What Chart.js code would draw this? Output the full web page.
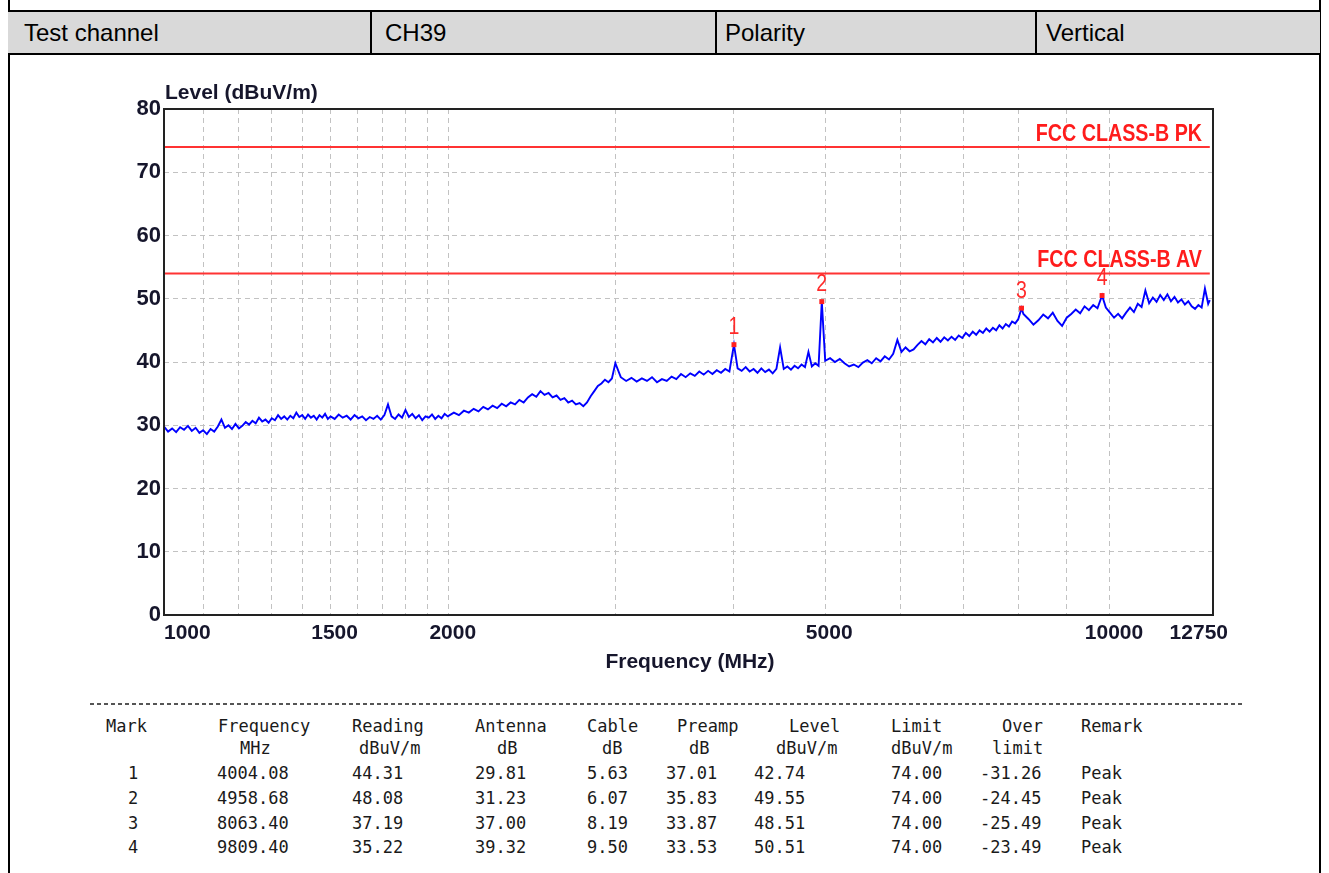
<!DOCTYPE html>
<html>
<head>
<meta charset="utf-8">
<script src="https://cdn.jsdelivr.net/npm/chart.js@4.4.1/dist/chart.umd.min.js"></script>
<style>
  html, body { margin: 0; padding: 0; background: #fff; }
  body { width: 1329px; height: 873px; position: relative; overflow: hidden; font-family: "Liberation Sans", Arial, sans-serif; }
  .vline { position: absolute; top: 0; width: 2px; height: 873px; background: #000; }
  #hdr { position: absolute; left: 8px; top: 10px; width: 1312px; height: 41px; background: #d9d9d9; border-top: 2px solid #000; border-bottom: 2px solid #000; }
  .hcell { position: absolute; top: 0; height: 41px; line-height: 41px; font-size: 24px; color: #000; }
  .hdiv { position: absolute; top: 0; width: 2px; height: 41px; background: #000; }
  #chartBox { position: absolute; left: 0; top: 60px; width: 1329px; height: 640px; }
  #sep { position: absolute; left: 90px; top: 703px; width: 1154px; height: 1.5px;
         background: repeating-linear-gradient(to right, #555 0 4px, transparent 4px 7px); }
  .tc { position: absolute; font-family: "DejaVu Sans Mono", "Liberation Mono", monospace; font-size: 17px; color: #1a1a1a; white-space: pre; line-height: 20px; }
</style>
</head>
<body>
<div class="vline" style="left:8px"></div>
<div class="vline" style="left:1319px"></div>
<div id="hdr"></div>
<div id="chartBox"><canvas id="c" width="1329" height="640"></canvas></div>
<div id="sep"></div>
<div id="tbl"></div>
<script>
// ---------- header ----------
const headerCells = ["Test channel", "CH39", "Polarity", "Vertical"];

// ---------- spectrum data ----------
const freqMHz = [
  1000,1010,1020,1030,1040,1050,1060,1070,1080,1090,
  1100,1110,1120,1130,1140,1150,1160,1170,1180,1190,
  1200,1210,1220,1230,1240,1250,1260,1270,1280,1290,
  1300,1310,1320,1330,1340,1350,1360,1370,1380,1390,
  1400,1410,1420,1430,1440,1450,1460,1470,1480,1490,
  1500,
  1515,1530,1545,1560,1575,1590,1605,1620,1635,1650,
  1665,1680,1695,1710,1725,1740,1755,1770,1785,1800,
  1815,1830,1845,1860,1875,1890,1905,1920,1935,1950,
  1965,1980,1995,
  2025,2050,2075,2100,2125,2150,2175,2200,2225,2250,
  2275,2300,2325,2350,2375,2400,2425,2450,2475,2500,
  2525,2550,2575,2600,2625,2650,2675,2700,2725,2750,
  2775,2800,2825,2850,2875,2900,2925,2950,2975,3000,
  3040,3080,3120,3160,3200,3240,3280,3320,3360,3400,
  3440,3480,3520,3560,3600,3640,3680,3720,3760,3800,
  3840,3880,3920,3960,4004.08,4040,4080,4120,4160,4200,
  4240,4280,4320,4360,4400,4440,4480,4520,4560,4600,
  4640,4680,4720,4760,4800,4840,4880,4920,4958.68,5000,
  5060,5120,5180,5240,5300,5360,5420,5480,5540,5600,
  5660,5720,5780,5840,5900,5960,6020,6080,6140,6200,
  6260,6320,6380,6440,6500,6560,6620,6680,6740,6800,
  6860,6920,6980,7040,7100,7160,7220,7280,7340,7400,
  7460,7520,7580,7640,7700,7760,7820,7880,7940,8000,
  8063.40,8100,8200,8300,8400,8500,8600,8700,8800,8900,
  9000,9100,9200,9300,9400,9500,9600,9700,9809.40,9900,
  10000,10100,10200,10300,10400,10500,10600,10700,10800,10900,
  11000,11100,11200,11300,11400,11500,11600,11700,11800,11900,
  12000,12100,12200,12300,12400,12500,12600,12700,12750
];
const levelDbuV = [
  29.8,29.0,29.5,28.9,29.7,29.3,29.9,29.1,29.6,28.8,
  29.2,28.6,29.4,29.0,29.8,30.9,29.6,30.0,29.4,30.2,
  29.5,29.9,30.5,30.1,30.7,30.3,31.2,30.6,30.9,30.4,
  31.1,30.8,31.6,31.0,31.4,30.9,31.5,31.1,32.0,31.3,
  31.6,31.0,31.7,31.2,31.5,30.9,31.6,31.2,31.8,31.0,
  31.4,
  31.0,31.7,31.2,31.5,30.9,31.6,31.1,31.4,30.8,31.3,
  31.0,31.5,30.9,31.6,33.3,31.4,31.0,31.7,31.2,32.4,
  31.3,31.8,31.1,31.6,30.8,31.4,31.2,31.7,31.0,31.5,
  31.1,31.8,31.4,
  32.0,31.6,32.3,32.0,32.6,32.2,32.9,32.5,33.1,32.7,
  33.4,33.0,33.6,33.3,34.0,33.6,34.4,34.9,34.5,35.4,
  34.8,35.1,34.4,34.7,34.0,34.3,33.6,33.9,33.3,33.5,
  33.0,33.6,34.6,35.4,36.2,36.6,37.2,36.8,37.4,39.8,
  37.6,37.0,37.5,36.9,37.4,37.0,37.6,36.8,37.3,37.0,
  37.7,37.3,38.1,37.6,38.2,37.8,38.5,38.0,38.6,38.1,
  38.7,38.3,38.9,38.5,42.74,39.0,38.6,39.2,38.5,38.9,
  38.3,39.0,38.4,38.8,38.2,38.9,42.3,38.9,39.3,38.8,
  39.4,39.0,39.6,39.2,41.6,39.3,39.8,39.4,49.55,40.2,
  40.6,40.0,40.5,39.8,39.3,39.6,39.2,39.9,40.3,39.8,
  40.6,40.1,40.9,40.4,41.3,43.5,41.6,42.3,41.7,42.0,
  42.7,43.3,42.8,43.6,43.1,43.8,43.2,43.9,43.4,44.0,
  43.5,44.2,43.8,44.6,44.1,44.8,44.3,45.0,44.6,45.3,
  44.8,45.4,45.0,45.8,45.3,46.0,45.6,46.4,46.1,46.8,
  48.51,47.6,46.8,45.9,46.6,47.5,46.9,47.8,46.5,45.7,
  47.0,47.6,48.3,47.7,48.8,48.2,49.0,48.5,50.51,48.6,
  47.8,47.0,47.6,46.9,47.8,48.6,47.9,49.2,48.7,51.3,
  49.3,50.2,49.5,50.6,49.8,50.7,49.6,50.3,49.4,49.9,
  49.1,49.6,48.8,48.4,49.0,48.6,51.6,49.2,49.8
];

// ---------- axes ----------
const xRange = [1000, 12850];
const xGridFreqs = [1100,1200,1300,1400,1500,1600,1700,1800,1900,2000,
                    3000,4000,5000,6000,7000,8000,9000,10000];
const xTickLabels = [1000, 1500, 2000, 5000, 10000, 12750];
const yRange = [0, 80];
const yStep = 10;
const xTitle = "Frequency (MHz)";
const yTitle = "Level (dBuV/m)";

// ---------- limits ----------
const limitNames = ["FCC CLASS-B PK", "FCC CLASS-B AV"];
const limitLevels = [74, 54];
const limitSpan = [1000, 12750];

// ---------- markers / table ----------
const markNo      = [1, 2, 3, 4];
const markFreq    = [4004.08, 4958.68, 8063.40, 9809.40];
const markReading = [44.31, 48.08, 37.19, 35.22];
const markAntenna = [29.81, 31.23, 37.00, 39.32];
const markCable   = [5.63, 6.07, 8.19, 9.50];
const markPreamp  = [37.01, 35.83, 33.87, 33.53];
const markLevel   = [42.74, 49.55, 48.51, 50.51];
const markLimit   = [74.00, 74.00, 74.00, 74.00];
const markOver    = [-31.26, -24.45, -25.49, -23.49];
const markRemark  = ["Peak", "Peak", "Peak", "Peak"];
const tableHead1  = ["Mark", "Frequency", "Reading", "Antenna", "Cable", "Preamp", "Level", "Limit", "Over", "Remark"];
const tableHead2  = ["", "MHz", "dBuV/m", "dB", "dB", "dB", "dBuV/m", "dBuV/m", "limit", ""];

// ---------- build header ----------
(function(){
  const hdr = document.getElementById('hdr');
  const cellLeft = [16, 377, 717, 1038];
  const divs = [362, 707, 1027];
  headerCells.forEach((t,i)=>{
    const d = document.createElement('div'); d.className='hcell';
    d.style.left = cellLeft[i]+'px'; d.textContent = t; hdr.appendChild(d);
  });
  divs.forEach(x=>{ const d=document.createElement('div'); d.className='hdiv'; d.style.left=x+'px'; hdr.appendChild(d); });
})();

// ---------- build table ----------
(function(){
  const tbl = document.getElementById('tbl');
  const f2 = v => v.toFixed(2);
  const cols = [
    {h1:106, h2:0,    v:128,  vals: markNo.map(String)},
    {h1:218, h2:240,  v:217,  vals: markFreq.map(f2)},
    {h1:352, h2:359,  v:352,  vals: markReading.map(f2)},
    {h1:475, h2:497,  v:475,  vals: markAntenna.map(f2)},
    {h1:587, h2:602,  v:587,  vals: markCable.map(f2)},
    {h1:677, h2:689,  v:666,  vals: markPreamp.map(f2)},
    {h1:789, h2:776,  v:754,  vals: markLevel.map(f2)},
    {h1:891, h2:891,  v:891,  vals: markLimit.map(f2)},
    {h1:1002,h2:992,  v:980,  vals: markOver.map(f2)},
    {h1:1081,h2:0,    v:1081, vals: markRemark}
  ];
  const rowY = [716, 738, 763, 788, 813, 837];
  function put(text, x, y){
    if(!text) return;
    const d=document.createElement('div'); d.className='tc';
    d.style.left=x+'px'; d.style.top=y+'px'; d.textContent=text; tbl.appendChild(d);
  }
  cols.forEach((c,i)=>{
    put(tableHead1[i], c.h1, rowY[0]);
    put(tableHead2[i], c.h2, rowY[1]);
    c.vals.forEach((v,r)=>put(v, c.v, rowY[2+r]));
  });
})();

// ---------- chart ----------
const overlay = {
  id: 'overlay',
  afterDraw(chart){
    const {ctx, chartArea:a, scales:{x, y}} = chart;
    ctx.save();
    // frame
    ctx.strokeStyle = '#222'; ctx.lineWidth = 2;
    ctx.strokeRect(a.left, a.top, a.right - a.left, a.bottom - a.top);
    // y title
    ctx.fillStyle = '#16162c';
    ctx.font = 'bold 21px "Liberation Sans", Arial, sans-serif';
    ctx.textAlign = 'left'; ctx.textBaseline = 'alphabetic';
    ctx.fillText(yTitle, a.left + 1, a.top - 10);
    // x tick labels
    ctx.textBaseline = 'middle';
    xTickLabels.forEach((v, i) => {
      const px = x.getPixelForValue(v);
      if (i === 0) { ctx.textAlign = 'left'; ctx.fillText(String(v), a.left, a.bottom + 18); }
      else if (i === xTickLabels.length - 1) { ctx.textAlign = 'right'; ctx.fillText(String(v), a.right + 15, a.bottom + 18); }
      else { ctx.textAlign = 'center'; ctx.fillText(String(v), px + 4, a.bottom + 18); }
    });
    // x title
    ctx.textAlign = 'center';
    ctx.fillText(xTitle, 690, a.bottom + 47);
    // limit names (condensed bold)
    ctx.fillStyle = '#ff1c1c';
    ctx.font = 'bold 24px "Liberation Sans", Arial, sans-serif';
    ctx.textAlign = 'right'; ctx.textBaseline = 'alphabetic';
    limitNames.forEach((n, i) => {
      const py = y.getPixelForValue(limitLevels[i]);
      ctx.save(); ctx.translate(a.right - 11, py - 6); ctx.scale(0.82, 1);
      ctx.fillText(n, 0, 0); ctx.restore();
    });
    // marker numbers
    ctx.fillStyle = '#ff2a2a';
    ctx.font = '23px "Liberation Sans", Arial, sans-serif';
    ctx.textAlign = 'center'; ctx.textBaseline = 'middle';
    markNo.forEach((m, i) => {
      const px = x.getPixelForValue(markFreq[i]);
      const py = y.getPixelForValue(markLevel[i]);
      ctx.save(); ctx.translate(px, py - 17); ctx.scale(0.85, 1);
      ctx.fillText(String(m), 0, 0); ctx.restore();
    });
    ctx.restore();
  }
};

const datasets = [
  {
    label: 'markers',
    data: markFreq.map((f, i) => ({x: f, y: markLevel[i]})),
    showLine: false, pointStyle: 'rect', pointRadius: 3.5,
    pointBackgroundColor: '#ff2020', pointBorderWidth: 0, order: 0
  },
  {
    label: 'level',
    data: freqMHz.map((f, i) => ({x: f, y: levelDbuV[i]})),
    borderColor: '#0000ff', borderWidth: 1.9, pointRadius: 0, tension: 0, order: 1
  }
];
limitLevels.forEach((lv, i) => {
  datasets.push({
    label: limitNames[i],
    data: limitSpan.map(f => ({x: f, y: lv})),
    borderColor: '#ff3333', borderWidth: 2, pointRadius: 0, order: 2
  });
});

new Chart(document.getElementById('c'), {
  type: 'line',
  data: { datasets },
  options: {
    responsive: false, animation: false, devicePixelRatio: 1,
    layout: { padding: { left: 0, right: 116, top: 49, bottom: 0 } },
    plugins: { legend: { display: false }, tooltip: { enabled: false } },
    scales: {
      x: {
        type: 'logarithmic', min: xRange[0], max: xRange[1],
        afterBuildTicks: s => { s.ticks = xGridFreqs.map(v => ({value: v})); },
        afterFit: s => { s.height = 85; },
        ticks: { display: false },
        grid: { color: '#c2c2c2', lineWidth: 1, drawTicks: false },
        border: { display: false, dash: [5, 4] }
      },
      y: {
        min: yRange[0], max: yRange[1],
        afterFit: s => { s.width = 164; },
        ticks: { stepSize: yStep, padding: 3, color: '#16162c',
                 font: { family: '"Liberation Sans", Arial, sans-serif', size: 22, weight: 'bold' } },
        grid: { color: '#c2c2c2', lineWidth: 1, drawTicks: false },
        border: { display: false, dash: [5, 4] }
      }
    }
  },
  plugins: [overlay]
});
</script>
</body>
</html>
